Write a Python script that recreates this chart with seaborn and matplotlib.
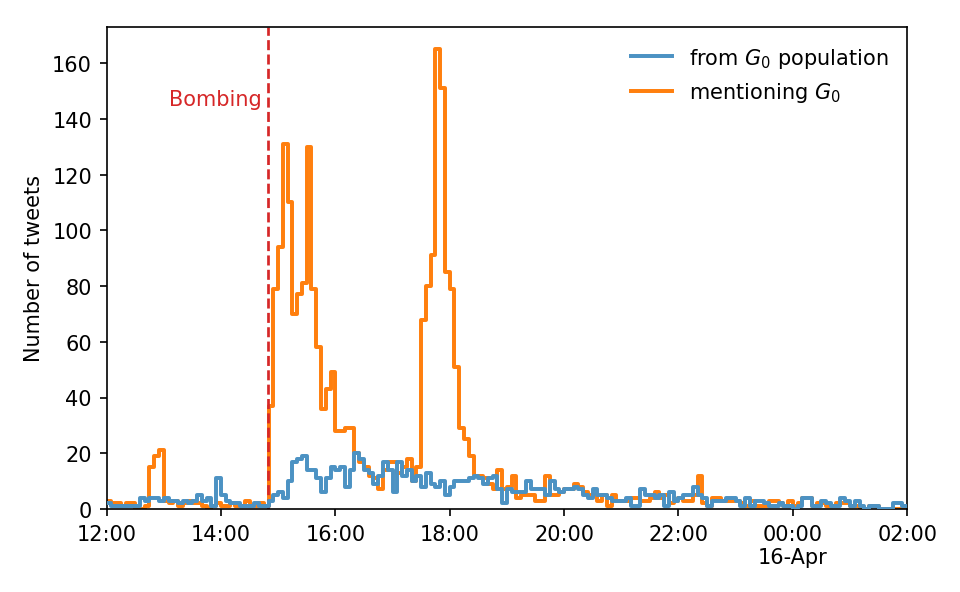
import numpy as np
import pandas as pd
import matplotlib
matplotlib.use("Agg")
import matplotlib.pyplot as plt
import seaborn as sns

# tweets per 5-minute bin, 15-Apr 12:00 -> 16-Apr 02:00 (168 bins)
from_g0 = [2, 1, 1, 1, 1, 1, 1, 4, 3, 4,
           4, 3, 4, 3, 3, 2, 3, 2, 3, 5,
           3, 4, 1, 11, 5, 3, 2, 2, 1, 1,
           1, 2, 1, 1,
           3, 5, 6, 4, 10, 17,
           18, 19, 14, 14, 11, 6, 11, 15, 14, 15,
           8, 14,
           20, 18, 14, 13, 9, 12, 17, 14,
           6, 17, 12, 14, 10, 12, 8, 13, 9, 8,
           10, 5, 8, 10, 10, 10, 11, 12, 11, 9,
           11, 12, 7, 2,
           7, 6, 6, 6, 10, 7,
           7, 7, 5, 10, 7, 6, 7, 7, 8, 7,
           5, 4, 7, 5, 5, 4, 3, 3, 3, 4, 1, 1,
           7, 5, 5, 4, 5, 1, 6, 3,
           4, 5, 5, 8, 5, 4, 1, 3, 3, 3,
           4, 4, 3, 1, 4, 1, 3, 3, 2, 1, 1,
           2, 1, 1, 0, 1, 4, 4, 1, 1, 3,
           2, 1, 1, 4, 3, 1, 3, 1, 0, 1,
           1, 0, 0, 0, 2, 2, 1]

mentioning_g0 = [3, 2, 2, 1, 2, 2, 0, 0, 1, 15,
                 19, 21, 3, 2, 3, 1, 2, 3, 2, 2,
                 1, 0, 1, 2, 1, 1, 2, 1, 1, 3,
                 1, 1, 2, 1,
                 37, 79, 94, 131, 110, 70, 77, 81, 130, 79, 58, 36, 43, 49,
                 28, 28, 29, 29, 20, 17, 15,
                 12, 11, 7, 14, 17, 17, 13, 15, 18, 10, 15,
                 68, 80, 91, 165, 151, 85, 79, 51, 29, 25, 19, 12,
                 12, 11, 9, 7, 14, 7,
                 8, 12, 4, 5, 5, 5, 3, 3,
                 12, 5, 5, 6, 7, 7, 9, 8, 6, 5, 5, 3, 5, 1, 5, 3, 3, 3, 4, 4,
                 3, 3, 4, 6, 4, 5, 2, 3, 4, 3, 3, 5, 12, 2, 1, 4, 4, 3, 3, 3,
                 3, 2, 1, 3, 1, 1, 1, 3, 3,
                 2, 1, 3, 1, 2, 4, 4, 1, 2, 2, 1, 1, 2, 2, 2, 1, 1, 0, 0, 1,
                 1, 0, 0, 0, 0, 0, 0]

bin_minutes = 5
bombing = "14:49"
tick_labels = ["12:00", "14:00", "16:00", "18:00", "20:00", "22:00",
               "00:00\n16-Apr", "02:00"]

# hours after 12:00
n_bins = len(from_g0)
width = bin_minutes / 60
span = n_bins * width
centers = np.arange(n_bins) * width + width / 2
hh, mm = bombing.split(":")
bombing_h = int(hh) + int(mm) / 60 - 12

df = pd.DataFrame({"t": centers, "from": from_g0, "mention": mentioning_g0})

fig, ax = plt.subplots(figsize=(6.4, 3.953), dpi=150)
fig.subplots_adjust(left=0.111, right=0.945, top=0.953, bottom=0.14)

sns.histplot(data=df, x="t", weights="from", binwidth=width,
             binrange=(0, span), element="step", fill=False,
             color="#4c92c3", linewidth=1.9, zorder=3,
             label="from $G_0$ population", ax=ax)
sns.histplot(data=df, x="t", weights="mention", binwidth=width,
             binrange=(0, span), element="step", fill=False,
             color="#ff7f0e", linewidth=1.9, zorder=2,
             label="mentioning $G_0$", ax=ax)

ax.axvline(bombing_h, color="#d62728", linestyle="--", linewidth=1.3)
ax.text(bombing_h - 0.1, 147, "Bombing", color="#d62728", ha="right",
        va="center", fontsize=10)

ax.set_xlim(0, span)
ax.set_ylim(0, 173)
ax.set_xticks(np.arange(len(tick_labels)) * 2)
ax.set_xticklabels(tick_labels)
ax.set_yticks(range(0, 161, 20))
ax.set_xlabel("")
ax.set_ylabel("Number of tweets")
ax.legend(loc="upper right", frameon=False)

plt.savefig("out.png", dpi=150)
